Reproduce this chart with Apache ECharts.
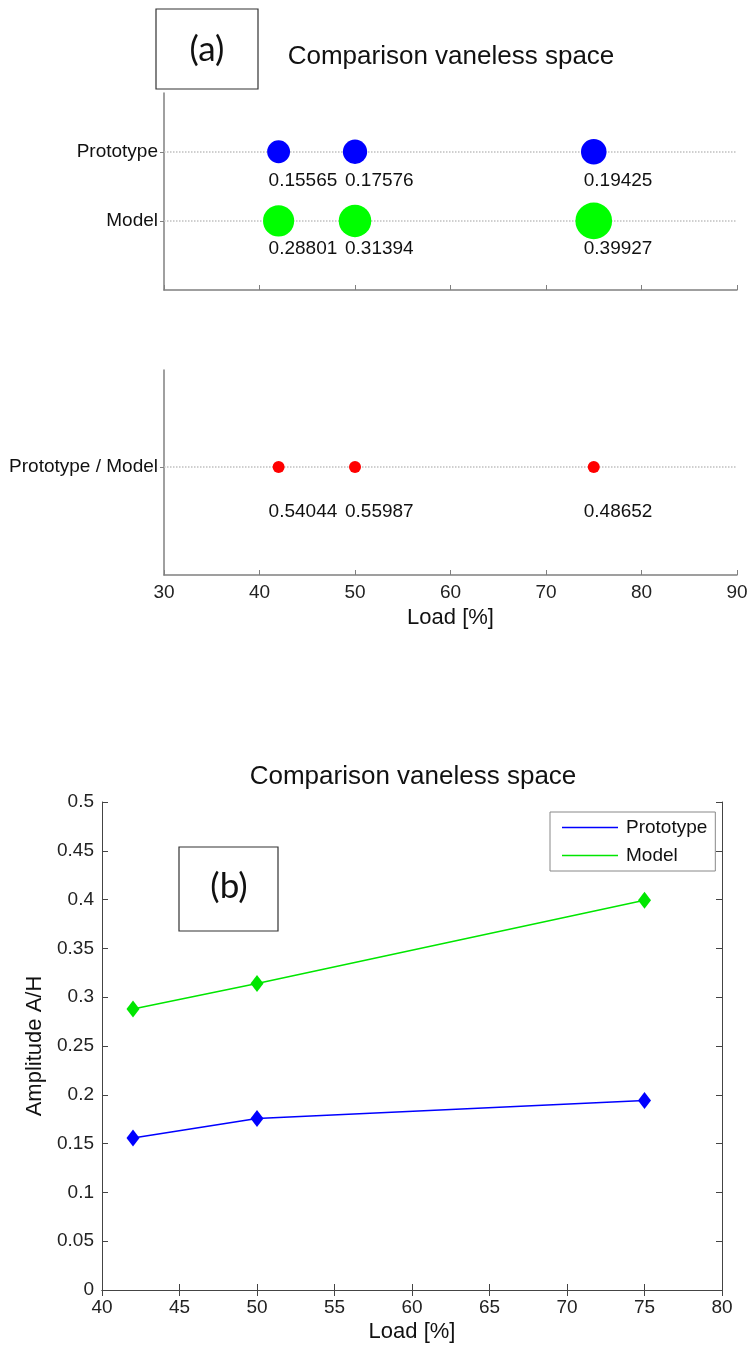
<!DOCTYPE html>
<html>
<head>
<meta charset="utf-8">
<script src="https://cdn.jsdelivr.net/npm/echarts@6/dist/echarts.min.js"></script>
<style>
  body { margin: 0; background: #fff; }
  #main { width: 751px; height: 1347px; }
</style>
</head>
<body>
<div id="main"></div>
<script>
// load points and amplitudes
const loads = [42, 50, 75];
const prototypeAmp = [0.15565, 0.17576, 0.19425];
const modelAmp = [0.28801, 0.31394, 0.39927];
const ratioAmp = [0.54044, 0.55987, 0.48652];
// rows of panel (a): y position -> name
const rowNames = ['Model', 'Prototype'];
const ratioName = 'Prototype / Model';
const loadTicksA = [30, 40, 50, 60, 70, 80, 90];
const loadTicksB = [40, 45, 50, 55, 60, 65, 70, 75, 80];

const font = 'Liberation Sans, Arial, sans-serif';
const greyAxis = { lineStyle: { color: '#808080', width: 1.5 } };
const darkAxis = { lineStyle: { color: '#444', width: 1 } };

const myChart = echarts.init(document.getElementById('main'));

// dotted row line, kept under the dots
const rowLine = y => ({
  silent: true,
  symbol: 'none',
  animation: false,
  z: 1,
  label: { show: false },
  lineStyle: { type: 'dotted', color: '#c0c0c0', width: 1.5 },
  data: [{ yAxis: y }]
});

const valueLabel = dy => ({
  show: true,
  position: 'inside',
  align: 'left',
  verticalAlign: 'middle',
  offset: [-10, dy],
  color: '#111',
  fontSize: 19,
  fontFamily: font,
  formatter: p => String(p.value[2])
});

myChart.setOption({
  animation: false,
  backgroundColor: '#fff',
  textStyle: { fontFamily: font },
  title: [
    {
      text: 'Comparison vaneless space',
      left: 451, top: 44, textAlign: 'center', padding: 0,
      textStyle: { fontSize: 26, fontWeight: 'normal', color: '#111', fontFamily: font }
    },
    {
      text: 'Comparison vaneless space',
      left: 413, top: 764, textAlign: 'center', padding: 0,
      textStyle: { fontSize: 26, fontWeight: 'normal', color: '#111', fontFamily: font }
    }
  ],
  graphic: [
    { type: 'rect', shape: { x: 156, y: 9, width: 102, height: 80 },
      style: { fill: '#fff', stroke: '#333', lineWidth: 1.2 } },
    { type: 'text', x: 207, y: 50,
      style: { text: '(a)', fontSize: 35, fontFamily: 'Lato, Open Sans, sans-serif', fill: '#111', align: 'center', verticalAlign: 'middle' } },
    { type: 'rect', shape: { x: 179, y: 847, width: 99, height: 84 }, z: 10,
      style: { fill: '#fff', stroke: '#333', lineWidth: 1.2 } },
    { type: 'text', x: 229, y: 887, z: 11,
      style: { text: '(b)', fontSize: 35, fontFamily: 'Lato, Open Sans, sans-serif', fill: '#111', align: 'center', verticalAlign: 'middle' } }
  ],
  legend: {
    left: 550, top: 812,
    orient: 'vertical',
    data: ['Prototype', 'Model'],
    icon: 'rect',
    itemWidth: 56, itemHeight: 1.5, itemGap: 9,
    padding: [6, 8, 6, 12],
    backgroundColor: '#fff',
    borderColor: '#888', borderWidth: 1,
    textStyle: { fontSize: 19, color: '#111', fontFamily: font, padding: [0, 0, 0, 3] }
  },
  grid: [
    { left: 164, top: 93, width: 573, height: 197 },
    { left: 164, top: 370, width: 573, height: 205 },
    { left: 102, top: 802, width: 620, height: 488 }
  ],
  xAxis: [
    { type: 'value', gridIndex: 0, min: 30, max: 90, interval: 10,
      axisLine: greyAxis, axisTick: { inside: true, length: 5, lineStyle: { color: '#808080' } },
      axisLabel: { show: false }, splitLine: { show: false } },
    { type: 'value', gridIndex: 1, min: 30, max: 90, interval: 10,
      axisLine: greyAxis, axisTick: { inside: true, length: 5, lineStyle: { color: '#808080' } },
      axisLabel: { fontSize: 19, color: '#222', margin: 8, customValues: loadTicksA },
      name: 'Load [%]', nameLocation: 'middle', nameGap: 32,
      nameTextStyle: { fontSize: 22, color: '#111' },
      splitLine: { show: false } },
    { type: 'value', gridIndex: 2, min: 40, max: 80, interval: 5,
      axisLine: darkAxis, axisTick: { inside: true, length: 6, lineStyle: { color: '#444' } },
      axisLabel: { fontSize: 19, color: '#222', margin: 8, customValues: loadTicksB },
      name: 'Load [%]', nameLocation: 'middle', nameGap: 31,
      nameTextStyle: { fontSize: 22, color: '#111' },
      splitLine: { show: false } },
    { type: 'value', gridIndex: 2, position: 'top', min: 40, max: 80, interval: 5,
      axisLine: darkAxis, axisTick: { inside: true, length: 6, lineStyle: { color: '#444' } },
      axisLabel: { show: false }, splitLine: { show: false } }
  ],
  yAxis: [
    { type: 'value', gridIndex: 0, min: 0, max: 2.85,
      axisLine: greyAxis,
      axisTick: { length: 4, customValues: [1, 2], lineStyle: { color: '#808080' } },
      axisLabel: { fontSize: 19, color: '#111', margin: 6, customValues: [1, 2],
        formatter: v => rowNames[v - 1] },
      splitLine: { show: false } },
    { type: 'value', gridIndex: 1, min: 0, max: 1.9,
      axisLine: greyAxis,
      axisTick: { length: 4, customValues: [1], lineStyle: { color: '#808080' } },
      axisLabel: { fontSize: 19, color: '#111', margin: 6, customValues: [1],
        formatter: () => ratioName },
      splitLine: { show: false } },
    { type: 'value', gridIndex: 2, min: 0, max: 0.5, interval: 0.05,
      axisLine: darkAxis, axisTick: { inside: true, length: 6, lineStyle: { color: '#444' } },
      axisLabel: { fontSize: 19, color: '#222', margin: 8 },
      name: 'Amplitude A/H', nameLocation: 'middle', nameGap: 52, nameRotate: 90,
      nameTextStyle: { fontSize: 22, color: '#111' },
      splitLine: { show: false } },
    { type: 'value', gridIndex: 2, position: 'right', min: 0, max: 0.5, interval: 0.05,
      axisLine: darkAxis, axisTick: { inside: true, length: 6, lineStyle: { color: '#444' } },
      axisLabel: { show: false }, splitLine: { show: false } }
  ],
  series: [
    {
      name: 'Prototype dots', type: 'scatter', xAxisIndex: 0, yAxisIndex: 0, z: 3,
      data: loads.map((x, i) => [x, 2, prototypeAmp[i]]),
      symbolSize: v => 58 * Math.sqrt(v[2]),
      itemStyle: { color: '#0000ff', opacity: 1 },
      label: valueLabel(29),
      markLine: rowLine(2)
    },
    {
      name: 'Model dots', type: 'scatter', xAxisIndex: 0, yAxisIndex: 0, z: 3,
      data: loads.map((x, i) => [x, 1, modelAmp[i]]),
      symbolSize: v => 58 * Math.sqrt(v[2]),
      itemStyle: { color: '#00ff00', opacity: 1 },
      label: valueLabel(28),
      markLine: rowLine(1)
    },
    {
      name: 'Ratio dots', type: 'scatter', xAxisIndex: 1, yAxisIndex: 1, z: 3,
      data: loads.map((x, i) => [x, 1, ratioAmp[i]]),
      symbolSize: 12,
      itemStyle: { color: '#ff0000', opacity: 1 },
      label: valueLabel(45),
      markLine: rowLine(1)
    },
    {
      name: 'Prototype', type: 'line', xAxisIndex: 2, yAxisIndex: 2,
      data: loads.map((x, i) => [x, prototypeAmp[i]]),
      color: '#0000ff',
      lineStyle: { width: 1.5 },
      symbol: 'diamond', symbolSize: [13, 17], showSymbol: true,
      itemStyle: { color: '#0000ff' }
    },
    {
      name: 'Model', type: 'line', xAxisIndex: 2, yAxisIndex: 2,
      data: loads.map((x, i) => [x, modelAmp[i]]),
      color: '#00e600',
      lineStyle: { width: 1.5 },
      symbol: 'diamond', symbolSize: [13, 17], showSymbol: true,
      itemStyle: { color: '#00e600' }
    }
  ]
});
</script>
</body>
</html>
